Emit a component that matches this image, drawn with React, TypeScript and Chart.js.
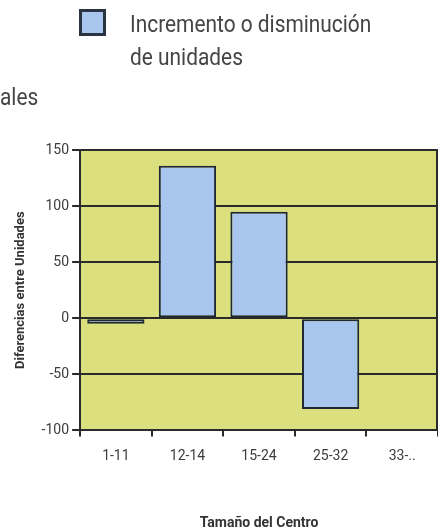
import React, { useEffect, useRef } from "react";
import { Chart, registerables } from "chart.js";

Chart.register(...registerables);

const categories = ["1-11", "12-14", "15-24", "25-32", "33-.."];
const unitDifferences: (number | null)[] = [-5, 136, 95, -81, null];
const seriesLabel = "Incremento o disminución de unidades";
const yTitle = "Diferencias entre Unidades";
const xTitle = "Tamaño del Centro";
const yMin = -100;
const yMax = 150;
const yStep = 50;

const FONT = "'Liberation Sans Narrow', 'Roboto', 'Liberation Sans', sans-serif";

const bgPlugin = {
  id: "plotBg",
  beforeDraw(chart: any) {
    const { ctx, chartArea } = chart;
    ctx.save();
    ctx.fillStyle = "#dcdf7d";
    ctx.fillRect(chartArea.left, chartArea.top, chartArea.right - chartArea.left, chartArea.bottom - chartArea.top);
    ctx.restore();
  },
  afterDraw(chart: any) {
    const { ctx, chartArea } = chart;
    ctx.save();
    ctx.strokeStyle = "#2a2a2a";
    ctx.lineWidth = 2;
    ctx.beginPath();
    ctx.moveTo(chartArea.right - 1, chartArea.top);
    ctx.lineTo(chartArea.right - 1, chartArea.bottom);
    ctx.stroke();
    ctx.restore();
  },
};

export default function App() {
  const ref = useRef<HTMLCanvasElement | null>(null);
  useEffect(() => {
    document.body.style.margin = "0";
    if (!ref.current) return;
    const chart = new Chart(ref.current, {
      type: "bar",
      data: {
        labels: categories,
        datasets: [
          {
            label: seriesLabel,
            data: unitDifferences,
            backgroundColor: "#a9c7ee",
            borderColor: "#1c2834",
            borderWidth: 2,
            borderSkipped: false,
            barPercentage: 0.8,
            categoryPercentage: 1,
          },
        ],
      },
      plugins: [bgPlugin],
      options: {
        animation: false,
        responsive: false,
        devicePixelRatio: 1,
        layout: { padding: { top: 150, left: 13, right: 0, bottom: 0 } },
        plugins: {
          legend: { display: false },
          tooltip: { enabled: false },
        },
        scales: {
          x: {
            type: "category",
            offset: true,
            grid: {
              offset: true,
              drawOnChartArea: false,
              drawTicks: true,
              tickLength: 6,
              color: "#2a2a2a",
              lineWidth: 2,
            },
            border: { display: true, color: "#2a2a2a", width: 2 },
            ticks: { color: "#3c3c3c", font: { family: FONT, size: 14 }, padding: 12 },
            title: {
              display: true,
              text: xTitle,
              color: "#333",
              font: { family: FONT, size: 14, weight: "bold" },
              padding: { top: 38, bottom: 0 },
            },
          },
          y: {
            min: yMin,
            max: yMax,
            ticks: { stepSize: yStep, color: "#3c3c3c", font: { family: FONT, size: 14 }, padding: 3 },
            grid: { color: "#2a2a2a", lineWidth: 2, tickLength: 8 },
            border: { display: true, color: "#2a2a2a", width: 2 },
            title: {
              display: true,
              text: yTitle,
              color: "#333",
              font: { family: FONT, size: 13, weight: "bold" },
              padding: { top: 0, bottom: 10 },
            },
          },
        },
      },
    });
    return () => chart.destroy();
  }, []);

  const textStyle: React.CSSProperties = {
    position: "absolute",
    fontFamily: FONT,
    fontSize: 24,
    lineHeight: "33px",
    color: "#454545",
    whiteSpace: "nowrap",
    transform: "scaleX(0.87)",
    transformOrigin: "left top",
  };

  return (
    <div style={{ position: "fixed", left: 0, top: 0, width: 438, height: 532, overflow: "hidden", background: "#fff" }}>
      <canvas ref={ref} width={438} height={532} style={{ position: "absolute", left: 0, top: 0 }} />
      <div
        style={{
          position: "absolute",
          left: 79,
          top: 9,
          width: 21,
          height: 21,
          background: "#a9c7ee",
          border: "3px solid #2a3440",
        }}
      />
      <div style={{ ...textStyle, left: 130, top: 8 }}>
        Incremento o disminución
        <br />
        de unidades
      </div>
      <div style={{ ...textStyle, left: 0, top: 81 }}>ales</div>
    </div>
  );
}
